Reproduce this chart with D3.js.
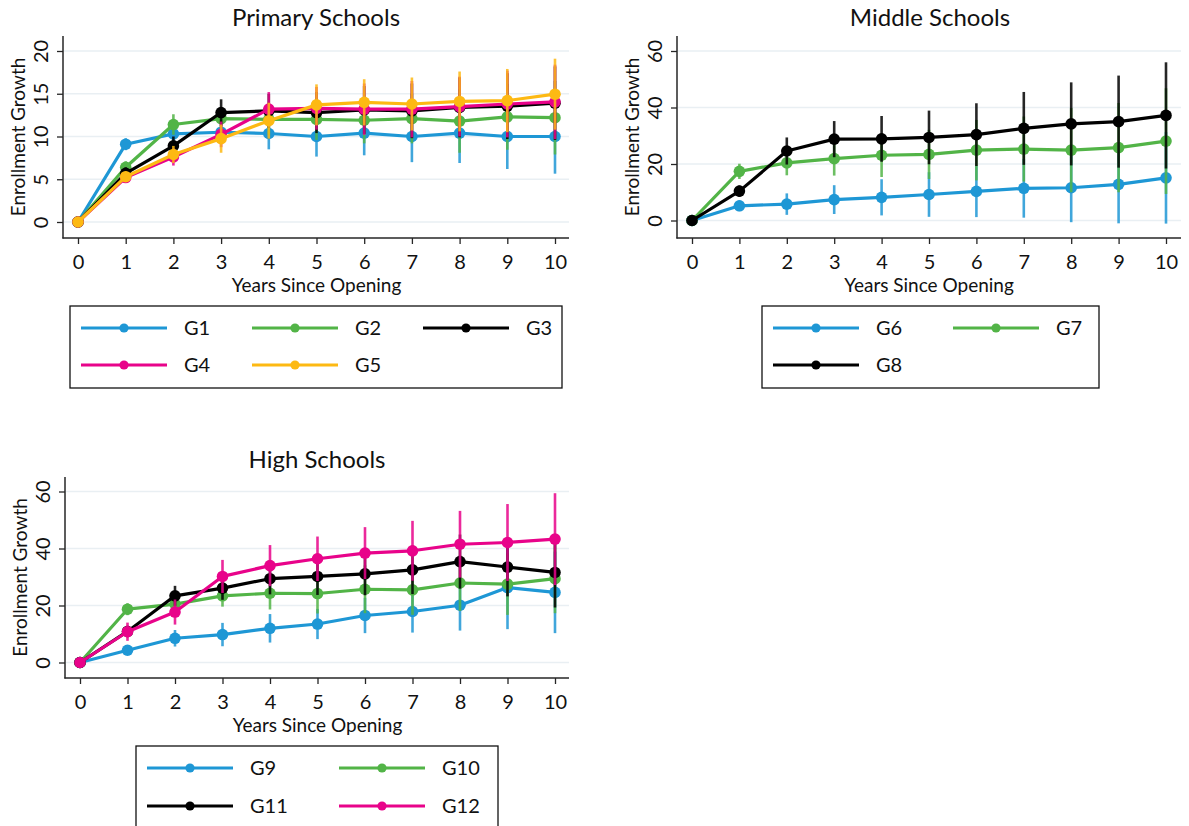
<!DOCTYPE html>
<html>
<head>
<meta charset="utf-8">
<script src="https://cdn.jsdelivr.net/npm/d3@7"></script>
<style>
  body { margin: 0; background: #fff; }
  svg { display: block; font-family: Lato, "Open Sans", "DejaVu Sans", sans-serif; }
</style>
</head>
<body>
<svg id="chart" width="1189" height="826"></svg>
<script>
// ---- Data ---------------------------------------------------------------
const years = [0, 1, 2, 3, 4, 5, 6, 7, 8, 9, 10];

// Primary schools (grades 1-5): mean growth and 95% CI half-width
const primaryTicks = [0, 5, 10, 15, 20];
const g1    = [0, 9.1, 10.3, 10.5, 10.35, 10.0, 10.4, 10.0, 10.4, 10.0, 10.0];
const g1Err = [0, 0.7, 0.9, 1.2, 1.85, 2.35, 2.6, 3.0, 3.5, 3.8, 4.35];
const g2    = [0, 6.4, 11.4, 12.1, 12.0, 12.0, 11.9, 12.1, 11.8, 12.3, 12.2];
const g2Err = [0, 0.7, 1.2, 1.3, 1.8, 2.4, 2.7, 2.9, 3.7, 3.85, 4.3];
const g3    = [0, 5.7, 8.9, 12.8, 13.0, 12.8, 13.1, 13.0, 13.4, 13.55, 13.9];
const g3Err = [0, 0.7, 1.1, 1.55, 2.0, 2.4, 2.8, 3.2, 3.5, 3.85, 4.3];
const g4    = [0, 5.2, 7.6, 10.25, 13.2, 13.3, 13.2, 13.2, 13.5, 13.8, 14.05];
const g4Err = [0, 0.6, 1.0, 1.5, 2.0, 2.5, 3.0, 3.3, 3.5, 3.9, 4.35];
const g5    = [0, 5.3, 7.9, 9.75, 11.85, 13.7, 14.0, 13.8, 14.1, 14.2, 14.95];
const g5Err = [0, 0.6, 1.0, 1.65, 2.1, 2.4, 2.7, 3.1, 3.5, 3.7, 4.15];

// Middle schools (grades 6-8)
const middleTicks = [0, 20, 40, 60];
const g6    = [0, 5.2, 5.8, 7.4, 8.2, 9.2, 10.3, 11.4, 11.6, 12.8, 15.1];
const g6Err = [0, 1.9, 3.8, 5.1, 6.4, 7.9, 9.1, 10.4, 12.2, 13.8, 16.2];
const g7    = [0, 17.4, 20.4, 21.9, 23.1, 23.4, 24.9, 25.3, 24.9, 25.8, 28.1];
const g7Err = [0, 2.7, 4.4, 6.0, 7.7, 8.7, 10.7, 11.5, 14.9, 15.8, 18.7];
const g8    = [0, 10.4, 24.6, 28.8, 28.9, 29.4, 30.4, 32.6, 34.2, 35.0, 37.2];
const g8Err = [0, 2.0, 4.8, 6.4, 8.1, 9.5, 11.1, 12.9, 14.7, 16.3, 18.8];

// High schools (grades 9-12)
const highTicks = [0, 20, 40, 60];
const g9     = [0, 4.3, 8.5, 9.8, 12.0, 13.5, 16.5, 17.9, 20.1, 26.3, 24.6];
const g9Err  = [0, 1.5, 2.9, 4.1, 5.0, 5.3, 6.2, 7.4, 8.9, 14.6, 14.3];
const g10    = [0, 18.7, 20.5, 23.4, 24.3, 24.2, 25.7, 25.5, 27.9, 27.5, 29.4];
const g10Err = [0, 2.1, 2.8, 3.8, 5.7, 7.0, 8.4, 8.8, 9.8, 10.8, 12.1];
const g11    = [0, 10.9, 23.4, 26.1, 29.4, 30.2, 31.1, 32.5, 35.4, 33.5, 31.6];
const g11Err = [0, 2.0, 3.5, 4.1, 5.5, 6.5, 7.5, 8.5, 9.5, 10.3, 12.3];
const g12    = [0, 10.8, 17.7, 30.2, 34.0, 36.4, 38.4, 39.2, 41.5, 42.1, 43.3];
const g12Err = [0, 3.2, 4.4, 5.8, 7.2, 7.8, 9.1, 10.5, 11.7, 13.5, 16.1];

// ---- Styling ------------------------------------------------------------
const BLUE = "#1e97d5", GREEN = "#52b447", BLACK = "#000000",
      PINK = "#e8038a", YELLOW = "#fdb913";
const AXIS = "#262626", GRID = "#e9eff3";
const TICK_FONT = 20, AXIS_TITLE_FONT = 19, LEGEND_FONT = 20, TITLE_FONT = 24;

const svg = d3.select("#chart");

// Panel specs: frame edges of the plot region and pixel anchors of the scales
const panels = [
  {
    title: "Primary Schools", titleX: 316, titleY: 26,
    frame: { left: 63, right: 569, top: 36, bottom: 238 },
    xRange: [78, 555], yDomain: [0, 20], yRange: [222, 51], yTicks: primaryTicks,
    series: [
      { name: "G1", values: g1, err: g1Err, color: BLUE },
      { name: "G2", values: g2, err: g2Err, color: GREEN },
      { name: "G3", values: g3, err: g3Err, color: BLACK },
      { name: "G4", values: g4, err: g4Err, color: PINK },
      { name: "G5", values: g5, err: g5Err, color: YELLOW }
    ],
    legend: { x: 70, y: 306, w: 492, h: 82, cols: 3, colW: 171, rowH: 37 }
  },
  {
    title: "Middle Schools", titleX: 930, titleY: 26,
    frame: { left: 677, right: 1181, top: 36, bottom: 238 },
    xRange: [692, 1166], yDomain: [0, 60], yRange: [220.5, 51], yTicks: middleTicks,
    series: [
      { name: "G6", values: g6, err: g6Err, color: BLUE },
      { name: "G7", values: g7, err: g7Err, color: GREEN },
      { name: "G8", values: g8, err: g8Err, color: BLACK }
    ],
    legend: { x: 762, y: 306, w: 337, h: 82, cols: 2, colW: 180, rowH: 37 }
  },
  {
    title: "High Schools", titleX: 317, titleY: 468,
    frame: { left: 65, right: 569, top: 477, bottom: 678 },
    xRange: [80, 555], yDomain: [0, 60], yRange: [662.5, 491.5], yTicks: highTicks,
    series: [
      { name: "G9",  values: g9,  err: g9Err,  color: BLUE },
      { name: "G10", values: g10, err: g10Err, color: GREEN },
      { name: "G11", values: g11, err: g11Err, color: BLACK },
      { name: "G12", values: g12, err: g12Err, color: PINK }
    ],
    legend: { x: 136, y: 746, w: 362, h: 84, cols: 2, colW: 192, rowH: 38 }
  }
];

panels.forEach(p => {
  const f = p.frame;
  const x = d3.scaleLinear().domain([0, 10]).range(p.xRange);
  const y = d3.scaleLinear().domain(p.yDomain).range(p.yRange);
  const g = svg.append("g");

  // Title
  g.append("text")
    .attr("x", p.titleX).attr("y", p.titleY)
    .attr("text-anchor", "middle")
    .attr("font-size", TITLE_FONT).attr("fill", "#111")
    .text(p.title);

  // Horizontal gridlines
  g.append("g").selectAll("line").data(p.yTicks).join("line")
    .attr("x1", f.left + 1).attr("x2", f.right)
    .attr("y1", d => y(d)).attr("y2", d => y(d))
    .attr("stroke", GRID).attr("stroke-width", 1.6);

  // Y axis
  const yAxis = g.append("g")
    .attr("transform", `translate(${f.left},0)`)
    .call(d3.axisLeft(y).tickValues(p.yTicks).tickSize(6).tickSizeOuter(0));
  yAxis.select(".domain").remove();
  yAxis.selectAll(".tick line").attr("stroke", AXIS).attr("stroke-width", 1.3);
  yAxis.selectAll(".tick text")
    .attr("x", null).attr("dy", null)
    .attr("transform", "rotate(-90)")
    .attr("y", -15)
    .attr("text-anchor", "middle")
    .attr("font-size", TICK_FONT).attr("fill", "#111")
    .attr("font-family", "Lato, sans-serif");

  // X axis
  const xAxis = g.append("g")
    .attr("transform", `translate(0,${f.bottom})`)
    .call(d3.axisBottom(x).tickValues(years).tickSize(6).tickSizeOuter(0).tickFormat(d3.format("d")));
  xAxis.select(".domain").remove();
  xAxis.selectAll(".tick line").attr("stroke", AXIS).attr("stroke-width", 1.3);
  xAxis.selectAll(".tick text")
    .attr("y", 31).attr("dy", null)
    .attr("font-size", TICK_FONT).attr("fill", "#111")
    .attr("font-family", "Lato, sans-serif");

  // Frame axis lines
  g.append("line").attr("x1", f.left).attr("x2", f.left).attr("y1", f.top).attr("y2", f.bottom + 0.6)
    .attr("stroke", AXIS).attr("stroke-width", 1.5);
  g.append("line").attr("x1", f.left - 0.6).attr("x2", f.right).attr("y1", f.bottom).attr("y2", f.bottom)
    .attr("stroke", AXIS).attr("stroke-width", 1.5);

  // Axis titles
  g.append("text")
    .attr("x", (p.xRange[0] + p.xRange[1]) / 2).attr("y", f.bottom + 54)
    .attr("text-anchor", "middle").attr("font-size", AXIS_TITLE_FONT).attr("fill", "#111")
    .text("Years Since Opening");
  const yMid = (f.top + f.bottom) / 2;
  g.append("text")
    .attr("transform", `translate(${f.left - 38},${yMid}) rotate(-90)`)
    .attr("text-anchor", "middle").attr("font-size", AXIS_TITLE_FONT).attr("fill", "#111")
    .text("Enrollment Growth");

  // Series: confidence spikes, connecting line, markers
  const line = d3.line().x((d, i) => x(years[i])).y(d => y(d));
  p.series.forEach(s => {
    const sg = g.append("g");
    sg.selectAll("line.ci").data(s.values).join("line")
      .attr("class", "ci")
      .attr("x1", (d, i) => x(years[i])).attr("x2", (d, i) => x(years[i]))
      .attr("y1", (d, i) => y(d - s.err[i])).attr("y2", (d, i) => y(d + s.err[i]))
      .attr("stroke", s.color).attr("stroke-width", 2.6).attr("stroke-opacity", 0.85);
    sg.append("path").datum(s.values)
      .attr("d", line).attr("fill", "none")
      .attr("stroke", s.color).attr("stroke-width", 3.2).attr("stroke-linejoin", "round");
    sg.selectAll("circle").data(s.values).join("circle")
      .attr("cx", (d, i) => x(years[i])).attr("cy", d => y(d))
      .attr("r", 5.8).attr("fill", s.color);
  });

  // Legend
  const L = p.legend;
  const lg = svg.append("g");
  lg.append("rect").attr("x", L.x).attr("y", L.y).attr("width", L.w).attr("height", L.h)
    .attr("fill", "#fff").attr("stroke", "#111").attr("stroke-width", 1.3);
  p.series.forEach((s, i) => {
    const col = i % L.cols, row = Math.floor(i / L.cols);
    const kx = L.x + 11 + col * L.colW;
    const ky = L.y + 22 + row * L.rowH;
    lg.append("line").attr("x1", kx).attr("x2", kx + 86).attr("y1", ky).attr("y2", ky)
      .attr("stroke", s.color).attr("stroke-width", 3);
    lg.append("circle").attr("cx", kx + 43).attr("cy", ky).attr("r", 4.6).attr("fill", s.color);
    lg.append("text").attr("x", kx + 103).attr("y", ky + 7)
      .attr("font-size", LEGEND_FONT).attr("fill", "#111").text(s.name);
  });
});
</script>
</body>
</html>
